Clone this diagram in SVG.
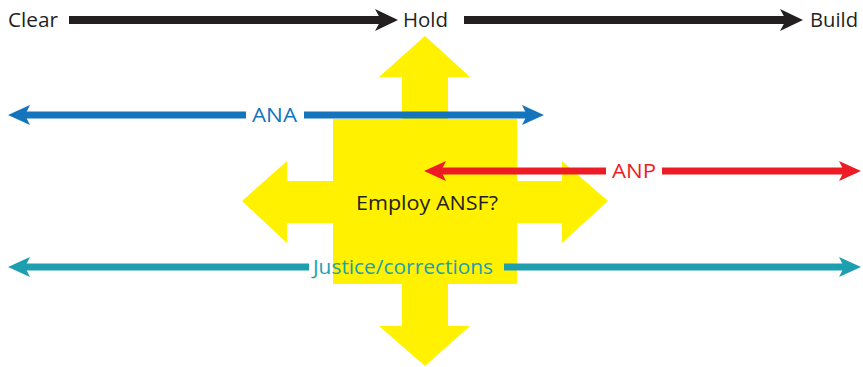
<svg xmlns="http://www.w3.org/2000/svg" width="863" height="367" viewBox="0 0 863 367">
<style>
.t{font-family:"Open Sans","Liberation Sans",sans-serif;font-size:20px;}
.k{fill:#231F20}
</style>
<rect width="863" height="367" fill="#fff"/>
<g id="employ">
<polygon fill="#FFF100" points="425,36 470,77 448,77 448,119 517,119 517,181 562,181 562,161 608,201 562,243 562,223 517,223 517,284 448,284 448,326 470,326 425,366 379,326 402,326 402,284 333,284 333,223 287,223 287,243 242,201 287,161 287,181 333,181 333,119 402,119 402,77 379,77"/>
<text class="t k" x="356" y="210" textLength="142" lengthAdjust="spacingAndGlyphs">Employ ANSF?</text>
</g>
<g id="connectors">
<line x1="69" y1="20" x2="386" y2="20" stroke="#231F20" stroke-width="8"/>
<polygon fill="#231F20" points="398,20 375,9 381,20 375,31"/>
<line x1="464" y1="20" x2="791" y2="20" stroke="#231F20" stroke-width="8"/>
<polygon fill="#231F20" points="803,20 780,9 786,20 780,31"/>
<line x1="18" y1="115" x2="246" y2="115" stroke="#1474BC" stroke-width="7"/>
<line x1="304" y1="115" x2="533" y2="115" stroke="#1474BC" stroke-width="7"/>
<polygon fill="#1474BC" points="8,115 30,105 25,115 30,125"/>
<polygon fill="#1474BC" points="544,115 522,105 527,115 522,125"/>
<line x1="434" y1="171" x2="606" y2="171" stroke="#ED1C24" stroke-width="7"/>
<line x1="662" y1="171" x2="851" y2="171" stroke="#ED1C24" stroke-width="7"/>
<polygon fill="#ED1C24" points="424,171 446,161 441,171 446,181"/>
<polygon fill="#ED1C24" points="861,171 839,161 844,171 839,181"/>
<line x1="18" y1="267" x2="309" y2="267" stroke="#1D9FB0" stroke-width="7"/>
<line x1="504" y1="267" x2="850" y2="267" stroke="#1D9FB0" stroke-width="7"/>
<polygon fill="#1D9FB0" points="8,267 30,257 25,267 30,277"/>
<polygon fill="#1D9FB0" points="861,267 839,257 844,267 839,277"/>
</g>
<g id="clear"><text class="t k" x="8" y="27" textLength="50" lengthAdjust="spacingAndGlyphs">Clear</text></g>
<g id="hold"><text class="t k" x="403" y="27" textLength="45" lengthAdjust="spacingAndGlyphs">Hold</text></g>
<g id="build"><text class="t k" x="810" y="27" textLength="48" lengthAdjust="spacingAndGlyphs">Build</text></g>
<g id="ana"><text class="t" fill="#1474BC" x="252" y="122" textLength="45" lengthAdjust="spacingAndGlyphs">ANA</text></g>
<g id="anp"><text class="t" fill="#ED1C24" x="612" y="178" textLength="44" lengthAdjust="spacingAndGlyphs">ANP</text></g>
<g id="justice"><text class="t" fill="#1D9FB0" x="313" y="274" textLength="180" lengthAdjust="spacingAndGlyphs">Justice/corrections</text></g>
</svg>
